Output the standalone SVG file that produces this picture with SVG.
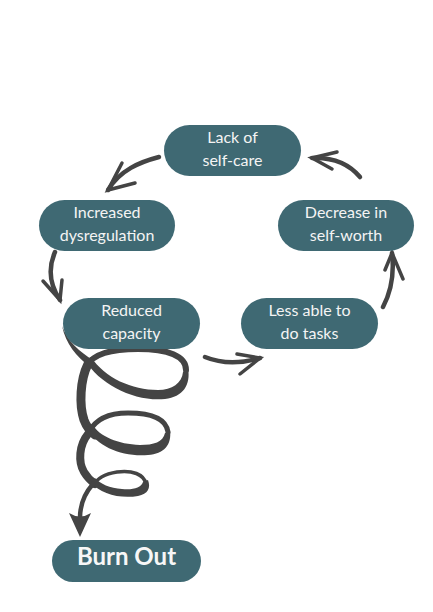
<svg xmlns="http://www.w3.org/2000/svg" width="433" height="612" viewBox="0 0 433 612">
<style>
.pill{fill:#3f6973;}
.t{font-family:Lato,"Open Sans","DejaVu Sans",sans-serif;font-size:16px;fill:#f4f4f4;text-anchor:middle;}
.tb{font-family:Lato,"Open Sans","DejaVu Sans",sans-serif;font-size:24px;font-weight:bold;fill:#f7f7f7;text-anchor:middle;}
.arr{fill:none;stroke:#444444;stroke-width:4.5;stroke-linecap:round;stroke-linejoin:round;}
.barb{fill:none;stroke:#444444;stroke-width:3.5;stroke-linecap:round;stroke-linejoin:miter;}
.sp{fill:#444444;}
.sps{fill:none;stroke:#444444;stroke-linecap:round;}
</style>
<rect width="433" height="612" fill="#ffffff"/>
<g id="spiral">
<path class="sp" d="M62,326 C66,344 76,356 90,367 L93,360 C80,352 68,342 62,326 Z"/>
<path class="sps" stroke-width="6" d="M186,370 C186,356 168,349 138,349 C110,349 94,354 86,366"/>
<path class="sp" d="M85,360 C100,385 135,402 165,399 C183,397 191,385 188,368 L183,372 C182,383 172,390 158,390 C132,390 105,378 91,357 Z"/>
<path class="sps" stroke-width="9" d="M88,364 C80,380 79,405 84,420 C87,428 91,432 95,435"/>
<path class="sps" stroke-width="5" d="M168,432 C166,418 150,413 128,413 C108,413 95,420 89,432"/>
<path class="sp" d="M86,428 C98,447 122,457 148,455 C164,454 172,445 170,430 L165,433 C163,442 154,445 140,445 C118,444 100,437 92,424 Z"/>
<path class="sps" stroke-width="8" d="M88,434 C79,445 78,462 84,472 C87,477 91,481 95,484"/>
<path class="sps" stroke-width="3.5" d="M146,484 C144,474 132,470 117,472 C104,474 96,480 93,486"/>
<path class="sp" d="M91,482 C100,494 120,499 138,496 C148,494 151,488 148,480 L143,482 C141,488 133,490 122,489 C110,488 100,484 95,478 Z"/>
<path class="sps" stroke-width="4.5" d="M93,484 C84,494 80,506 80,518"/>
<path class="sp" d="M80,537 L69,513 Q80,520 91,513 Z"/>
</g>
<g id="connectors">
<path class="arr" d="M159,157 C140,162 120,170 108,190"/>
<path class="barb" d="M122,163 L108,190 L135,183"/>
<path class="arr" d="M360,177 C350,165 335,157 312,158"/>
<path class="barb" d="M337,152 L312,158 L332,169"/>
<path class="arr" d="M55,252 C48,268 50,285 60,300"/>
<path class="barb" d="M43,281 L60,300 L62,280"/>
<path class="arr" d="M205,357 C222,364 240,364 260,358"/>
<path class="barb" d="M237,354 L260,358 L240,374"/>
<path class="arr" d="M383,307 C392,290 394,270 392,253"/>
<path class="barb" d="M385,270 L392,253 L403,279"/>
</g>
<g id="lack-of-self-care">
<rect class="pill" x="164" y="125" width="137" height="51" rx="25.5"/>
<text class="t" x="232.5" y="143">Lack of</text>
<text class="t" x="232.5" y="166">self-care</text>
</g>
<g id="increased-dysregulation">
<rect class="pill" x="39" y="200" width="136" height="51" rx="25.5"/>
<text class="t" x="107" y="218">Increased</text>
<text class="t" x="107" y="241">dysregulation</text>
</g>
<g id="decrease-in-self-worth">
<rect class="pill" x="278" y="200" width="136" height="51" rx="25.5"/>
<text class="t" x="346" y="218">Decrease in</text>
<text class="t" x="346" y="241">self-worth</text>
</g>
<g id="reduced-capacity">
<rect class="pill" x="63" y="298" width="137" height="51" rx="25.5"/>
<text class="t" x="131.5" y="316">Reduced</text>
<text class="t" x="131.5" y="339">capacity</text>
</g>
<g id="less-able-to-do-tasks">
<rect class="pill" x="241" y="298" width="137" height="51" rx="25.5"/>
<text class="t" x="309.5" y="316">Less able to</text>
<text class="t" x="309.5" y="339">do tasks</text>
</g>
<g id="burn-out">
<rect class="pill" x="52" y="540" width="149" height="42" rx="21"/>
<text class="tb" x="126.5" y="565">Burn Out</text>
</g>
</svg>
